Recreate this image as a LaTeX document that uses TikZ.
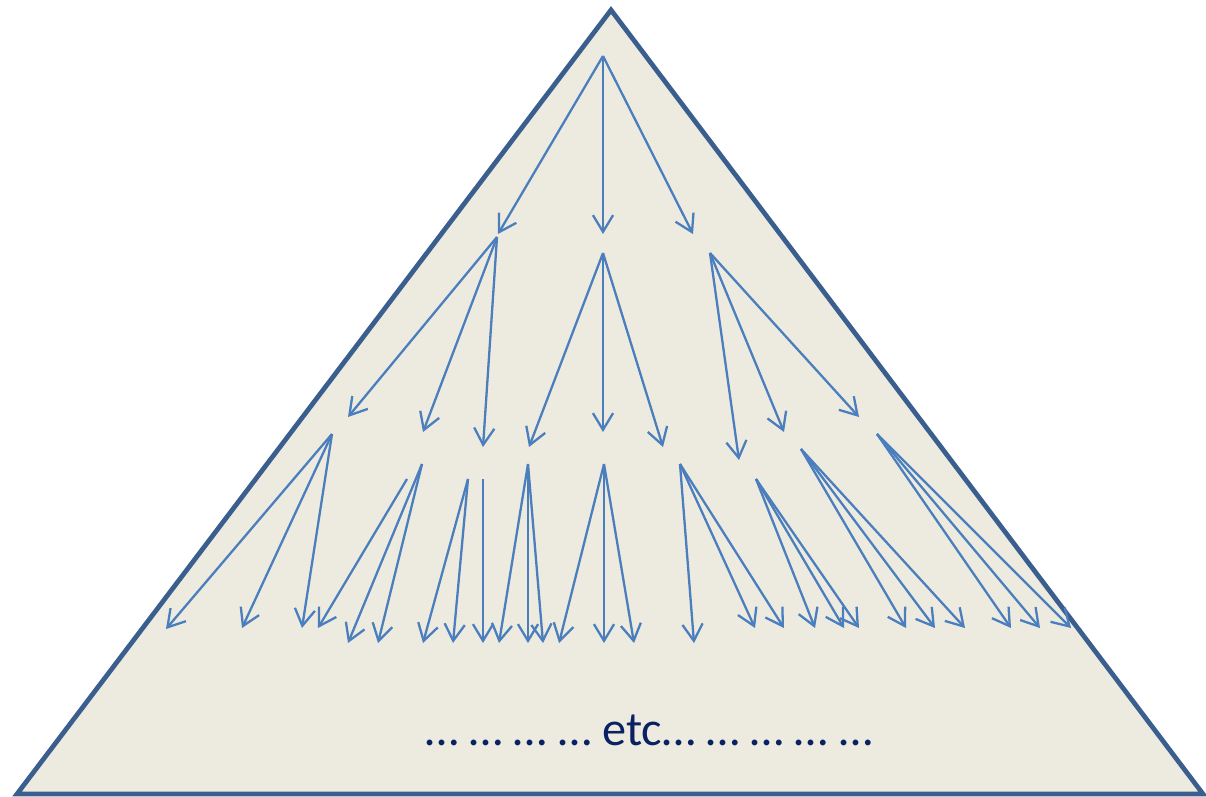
\documentclass[tikz,border=0pt]{standalone}
\usepackage{fontspec}
\setmainfont{Carlito}
\usetikzlibrary{arrows.meta}
\definecolor{pyrfill}{HTML}{EDEAE0}
\definecolor{pyredge}{HTML}{3A5F8F}
\definecolor{arrblue}{HTML}{4A7EBD}
\definecolor{txtnavy}{HTML}{0A2262}
\tikzset{
  arr/.style={draw=arrblue, line width=1.3pt, -{Straight Barb[length=9.5pt,width=11.5pt]}},
  pyr/.style={fill=pyrfill, draw=pyredge, line width=2.7pt, line join=miter},
}
\begin{document}
\begin{tikzpicture}[x=0.02cm,y=-0.02cm]
\useasboundingbox (0,0) rectangle (1206,796);
\coordinate (apex) at (611,10);
\coordinate (bl) at (17,794);
\coordinate (br) at (1203,794);
\draw[pyr] (apex) -- (br) -- (bl) -- cycle;
% start points
\coordinate (R) at (603,56);
\coordinate (A) at (497,237);
\coordinate (B) at (603,253);
\coordinate (C) at (710,253);
\coordinate (P1) at (332,434);
\coordinate (S1) at (407,479);
\coordinate (P2) at (422,464);
\coordinate (P3) at (468,479);
\coordinate (S2) at (483,479);
\coordinate (P4) at (528,464);
\coordinate (P5) at (604,464);
\coordinate (P6) at (680,464);
\coordinate (P7) at (756,479);
\coordinate (P8) at (801,449);
\coordinate (P9) at (877,434);
\foreach \s/\x/\y/\n in {
  R/498/234/r1, R/603/234/r2, R/693/234/r3,
  A/348/417/a1, A/423/432/a2, A/483/447/a3,
  B/529/447/b1, B/603/432/b2, B/663/447/b3,
  C/739/460/c1, C/784/432/c2, C/859/417/c3,
  P1/166/629/p11, P1/242/628/p12, P1/302/628/p13,
  S1/318/628/s11,
  P2/348/643/p21, P2/378/643/p22,
  P3/423/643/p31, P3/453/643/p32,
  S2/483/643/s21,
  P4/499/643/p41, P4/528/643/p42, P4/543/643/p43,
  P5/559/643/p51, P5/604/643/p52, P5/634/643/p53,
  P6/694/643/p61, P6/755/628/p62, P6/784/628/p63,
  P7/815/628/p71, P7/844/628/p72, P7/859/628/p73,
  P8/906/628/p81, P8/935/628/p82, P8/965/628/p83,
  P9/1011/628/p91, P9/1040/628/p92, P9/1071/628/p93}
{
  \coordinate (t\n) at (\x,\y);
  \draw[arr] (\s) -- (t\n);
}
\node[text=txtnavy, font=\fontsize{27.5}{32}\selectfont, anchor=base] (etc) at (649,745) {… … … … etc… … … … …};
\end{tikzpicture}
\end{document}
